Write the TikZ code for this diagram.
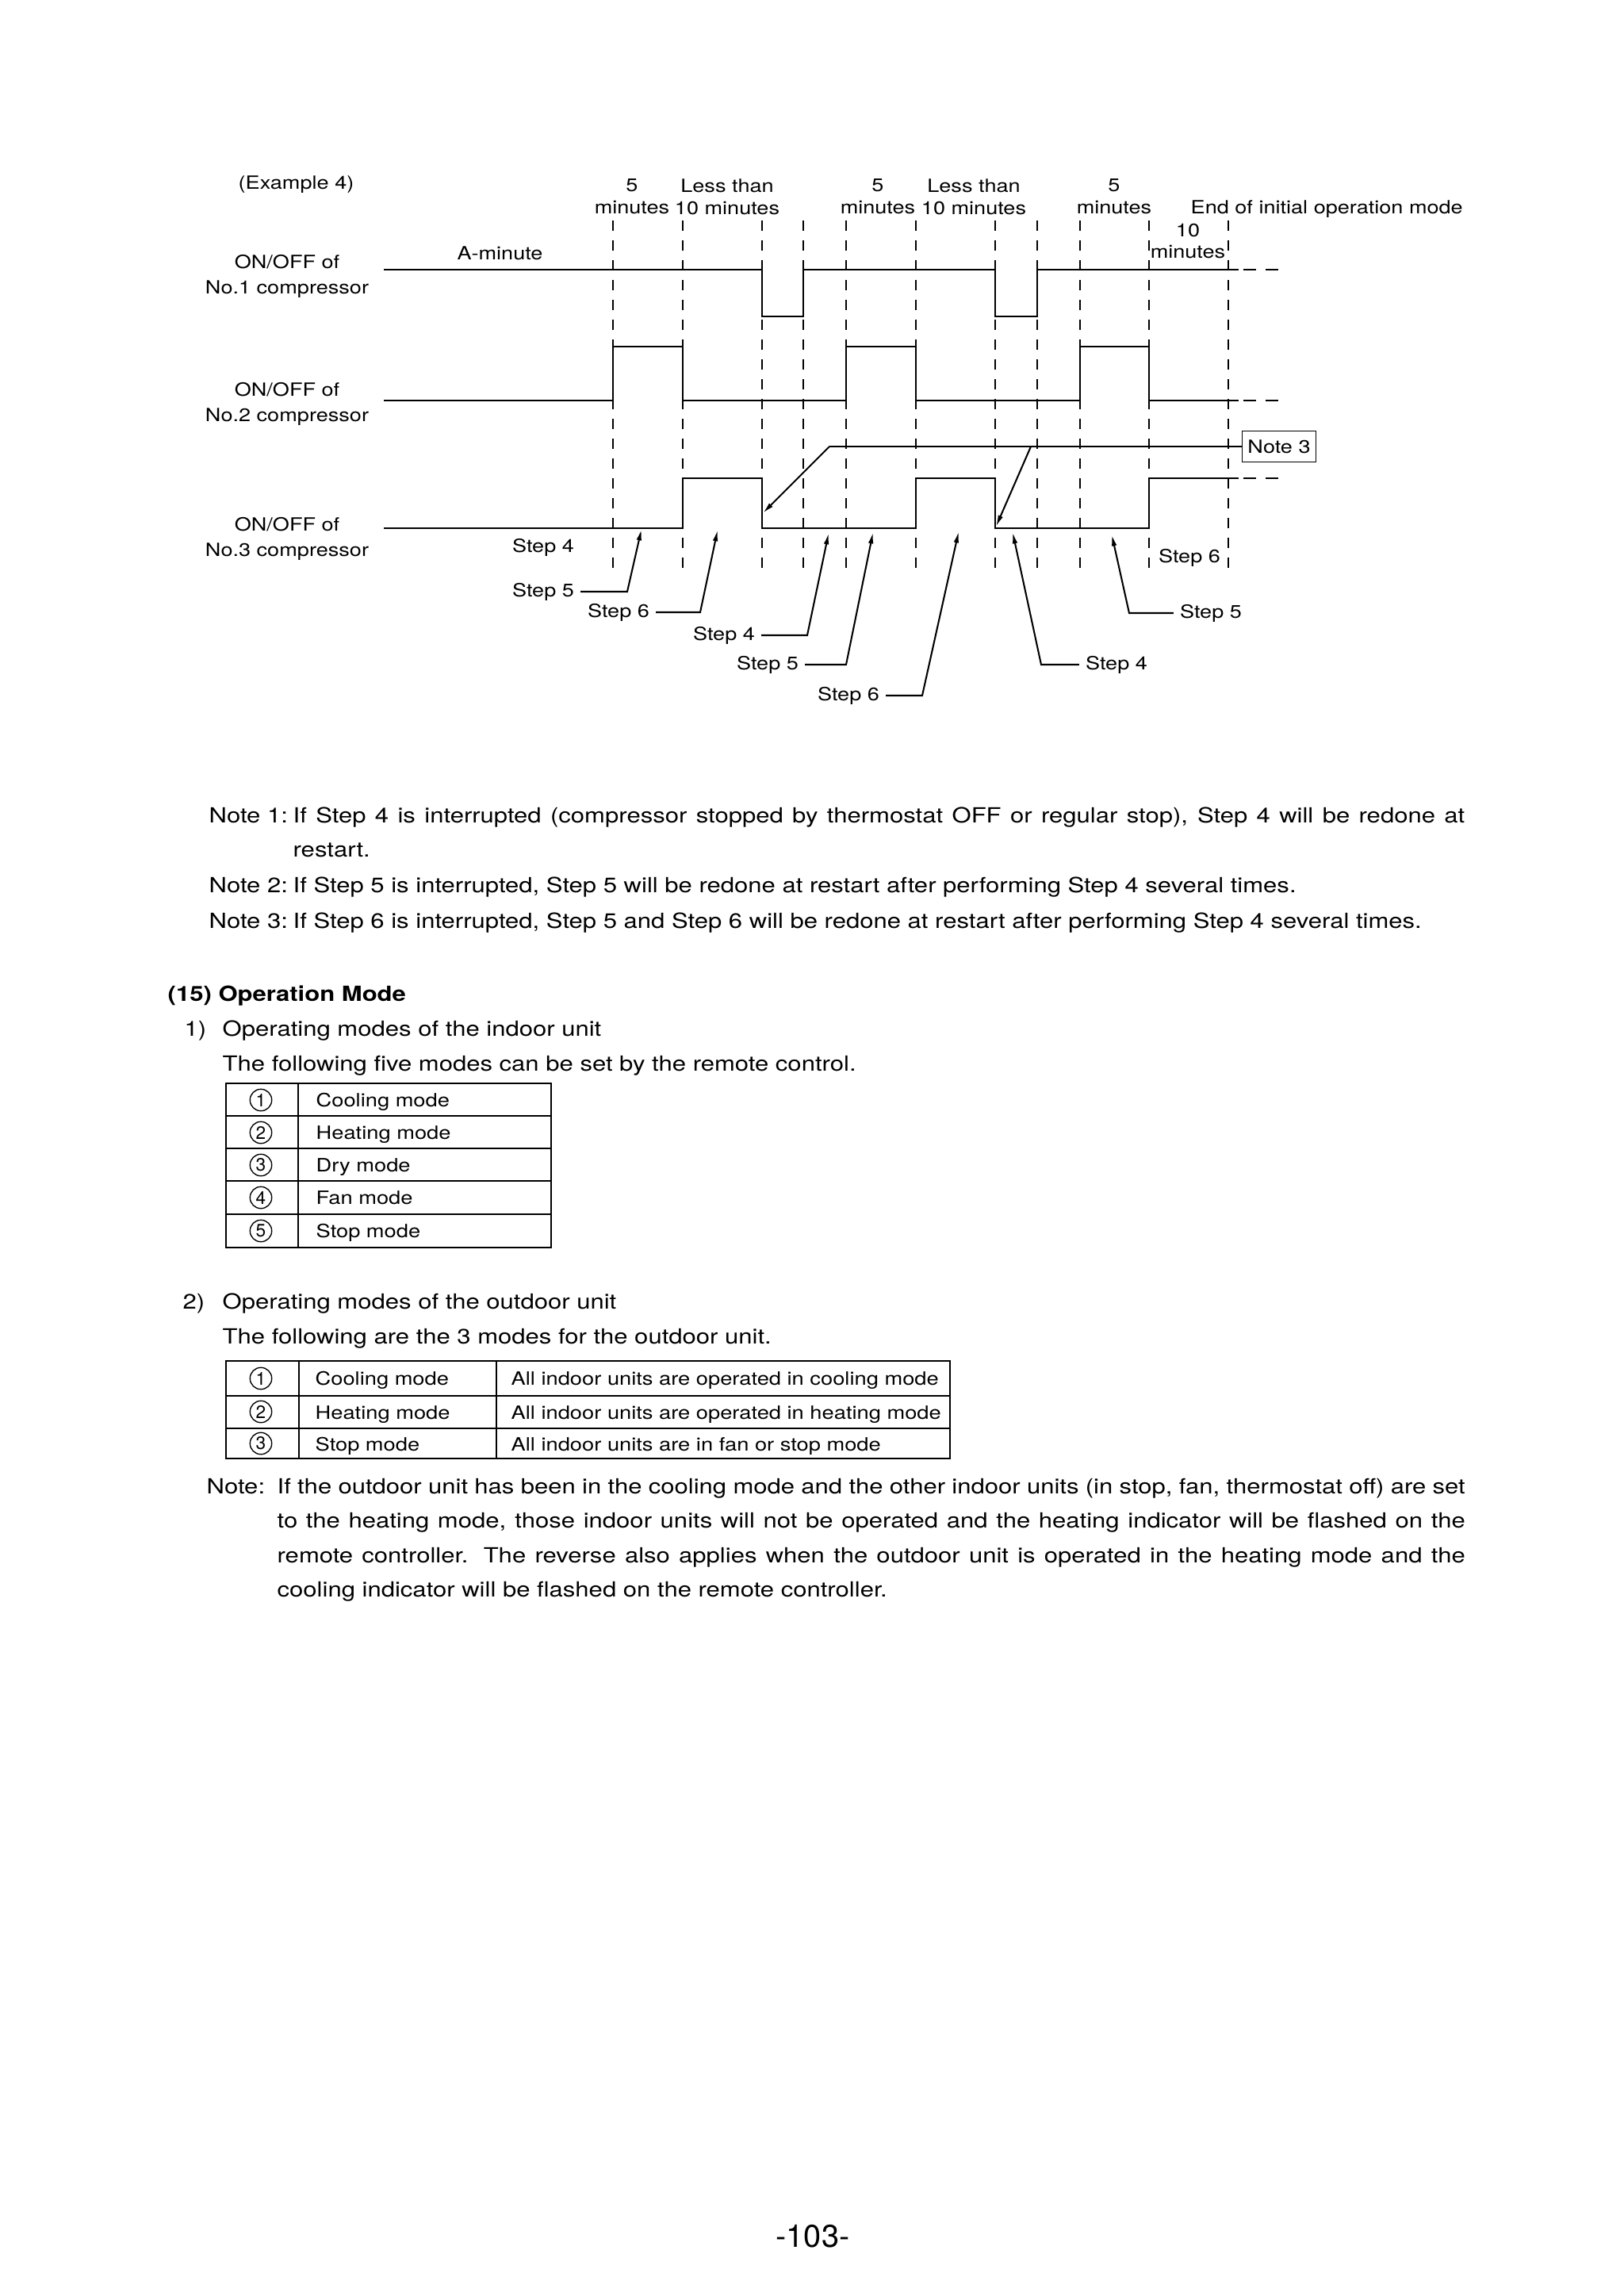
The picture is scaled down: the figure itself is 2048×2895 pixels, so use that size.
\documentclass[tikz,border=0pt]{standalone}
\usepackage{fontspec}
\setmainfont{TeX Gyre Heros}[FakeStretch=1.18]
\newfontfamily\plainfont{TeX Gyre Heros}
\usetikzlibrary{arrows.meta}

\begin{document}
\begin{tikzpicture}[
    x=0.1026mm, y=-0.1026mm, % one unit is one pixel of the page, y runs downwards
    >={Latex[length=4.2pt, width=1.9pt]}, % Set default arrow tip style
    sig/.style={line width=0.68pt}, % Style for the ON/OFF signals
    sigend/.style={line width=0.68pt, dash pattern=on 4.7pt off 3.5pt}, % Style for the open ends
    timemark/.style={line width=0.45pt, dash pattern=on 3.8pt off 3.5pt}, % Style for the time marks
    leader/.style={->, line width=0.6pt}, % Style for the step pointers
    chart/.style={inner sep=0pt, font=\fontsize{6.7}{9.3}\selectfont}, % Style for chart texts
    toplabel/.style={chart, align=center, anchor=base, font=\fontsize{6.7}{8.1}\selectfont}, % Style for time spans (base = last line)
    steplabel/.style={inner sep=2.2pt, font=\fontsize{6.7}{8}\selectfont}, % Style for Step 4, 5, 6
    body/.style={inner sep=0pt, anchor=base west, font=\fontsize{7.68}{12.7}\selectfont}, % Style for the running text
    cell/.style={inner sep=0pt, anchor=mid west, font=\fontsize{6.75}{8}\selectfont}, % Style for table texts
    num/.style={circle, draw, line width=0.4pt, inner sep=0pt, minimum size=8pt, font=\plainfont\fontsize{6.6}{7}\selectfont}, % Style for circled numbers
    thickrule/.style={line width=0.75pt}, % Style for table borders
    thinrule/.style={line width=0.45pt} % Style for table rules
]

    % Page
    \fill[white] (0,0) rectangle (2048,2895);
    \useasboundingbox (0,0) rectangle (2048,2895);

    % Time marks
    \foreach \x in {773,861,961,1013,1067,1155,1255,1308,1362,1449,1549}
        \draw[timemark] (\x,278) -- (\x,726);

    % Labels over the chart
    \node[chart, anchor=base west] (example) at (300,238) {(Example 4)};
    \node[toplabel] (span1) at (797,269) {5\\minutes};
    \node[toplabel] (span2) at (917,270) {Less than\\10 minutes};
    \node[toplabel] (span3) at (1107,269) {5\\minutes};
    \node[toplabel] (span4) at (1228,270) {Less than\\10 minutes};
    \node[toplabel] (span5) at (1405,269) {5\\minutes};
    \node[chart, anchor=base west] (endmode) at (1501,269) {End of initial operation mode};
    \node[toplabel, font=\fontsize{6.7}{7.6}\selectfont] (span6) at (1498,325) {10\\minutes};
    \node[chart, anchor=base west] (aminute) at (576,327) {A-minute};

    % Compressor names
    \node[chart, align=center, anchor=base] (comp1) at (362,370) {ON/OFF of\\No.1 compressor};
    \node[chart, align=center, anchor=base] (comp2) at (362,531) {ON/OFF of\\No.2 compressor};
    \node[chart, align=center, anchor=base] (comp3) at (362,701) {ON/OFF of\\No.3 compressor};

    % Signals
    \draw[sig] (484,340) -- (961,340) -- (961,399) -- (1013,399) -- (1013,340) -- (1255,340)
        -- (1255,399) -- (1308,399) -- (1308,340) -- (1562,340);
    \draw[sig] (484,505) -- (773,505) -- (773,437) -- (861,437) -- (861,505) -- (1067,505)
        -- (1067,437) -- (1155,437) -- (1155,505) -- (1362,505) -- (1362,437) -- (1449,437)
        -- (1449,505) -- (1562,505);
    \draw[sig] (484,666) -- (861,666) -- (861,603) -- (961,603) -- (961,666) -- (1155,666)
        -- (1155,603) -- (1255,603) -- (1255,666) -- (1449,666) -- (1449,603) -- (1562,603);
    \draw[sigend] (1568,340) -- (1622,340);
    \draw[sigend] (1568,505) -- (1622,505);
    \draw[sigend] (1568,603) -- (1622,603);

    % Note 3 and its pointers
    \node[draw, line width=0.45pt, chart, minimum width=27.1pt, minimum height=11.4pt] (note3) at (1613,563) {Note 3};
    \coordinate (j1) at (1046,563);
    \coordinate (j2) at (1300,563);
    \coordinate (p1) at (962,647);
    \coordinate (p2) at (1256,664);
    \draw[sig] (j1) -- (note3);
    \draw[leader] (j1) -- (p1);
    \draw[leader] (j2) -- (p2);

    % Steps
    \node[steplabel] (s4a) at (685,690) {Step 4};
    \node[steplabel] (s5a) at (685,746) {Step 5};
    \node[steplabel] (s6a) at (780,772) {Step 6};
    \node[steplabel] (s4b) at (913,801) {Step 4};
    \node[steplabel] (s5b) at (968,838) {Step 5};
    \node[steplabel] (s6b) at (1070,877) {Step 6};
    \node[steplabel] (s4c) at (1408,838) {Step 4};
    \node[steplabel] (s5c) at (1527,773) {Step 5};
    \node[steplabel] (s6c) at (1500,703) {Step 6};

    % Bends and tips of the step pointers
    \coordinate (k1) at (791,746);  \coordinate (a1) at (809,667);
    \coordinate (k2) at (883,772);  \coordinate (a2) at (905,668);
    \coordinate (k3) at (1018,801); \coordinate (a3) at (1045,672);
    \coordinate (k4) at (1067,838); \coordinate (a4) at (1101,671);
    \coordinate (k5) at (1163,877); \coordinate (a5) at (1209,670);
    \coordinate (k6) at (1313,838); \coordinate (a6) at (1277,671);
    \coordinate (k7) at (1424,773); \coordinate (a7) at (1402,674);

    \draw[leader] (s5a) -- (k1) -- (a1);
    \draw[leader] (s6a) -- (k2) -- (a2);
    \draw[leader] (s4b) -- (k3) -- (a3);
    \draw[leader] (s5b) -- (k4) -- (a4);
    \draw[leader] (s6b) -- (k5) -- (a5);
    \draw[leader] (s4c) -- (k6) -- (a6);
    \draw[leader] (s5c) -- (k7) -- (a7);

    % Notes under the chart
    \node[body] (note1l) at (263,1037) {Note 1:};
    \node[body, text width=151.6mm, align=justify] (note1) at (369,1037)
        {If Step 4 is interrupted (compressor stopped by thermostat OFF or regular stop), Step 4 will be redone at\linebreak restart.};
    \node[body] (note2l) at (263,1125) {Note 2:};
    \node[body] (note2) at (369,1125) {If Step 5 is interrupted, Step 5 will be redone at restart after performing Step 4 several times.};
    \node[body] (note3l) at (263,1170) {Note 3:};
    \node[body] (note3t) at (369,1170) {If Step 6 is interrupted, Step 5 and Step 6 will be redone at restart after performing Step 4 several times.};

    % Operation mode
    \node[body, font=\bfseries\fontsize{7.68}{12.7}\selectfont] (head) at (211,1262) {(15) Operation Mode};
    \node[body] (item1) at (232,1306) {1)};
    \node[body] (item1t) at (280,1306) {Operating modes of the indoor unit};
    \node[body] (item1s) at (280,1350) {The following five modes can be set by the remote control.};

    % Table of indoor modes
    \draw[thickrule] (285,1366) rectangle (695,1573);
    \foreach \y in {1407,1448,1489,1531}
        \draw[thinrule] (285,\y) -- (695,\y);
    \draw[thinrule] (376,1366) -- (376,1573);
    \foreach \y/\n/\m [count=\k] in {1387/1/Cooling mode, 1428/2/Heating mode, 1469/3/Dry mode, 1510/4/Fan mode, 1552/5/Stop mode} {
        \node[num] (inum\k) at (329,\y) {\n};
        \node[cell] (imode\k) at (398,\y) {\m};
    }

    \node[body] (item2) at (230,1650) {2)};
    \node[body] (item2t) at (280,1650) {Operating modes of the outdoor unit};
    \node[body] (item2s) at (280,1694) {The following are the 3 modes for the outdoor unit.};

    % Table of outdoor modes
    \draw[thickrule] (285,1716) rectangle (1198,1839);
    \foreach \y in {1760,1801}
        \draw[thinrule] (285,\y) -- (1198,\y);
    \foreach \x in {377,626}
        \draw[thinrule] (\x,1716) -- (\x,1839);
    \foreach \y/\n/\m/\d [count=\k] in {1738/1/Cooling mode/All indoor units are operated in cooling mode,
        1780/2/Heating mode/All indoor units are operated in heating mode,
        1820/3/Stop mode/All indoor units are in fan or stop mode} {
        \node[num] (onum\k) at (329,\y) {\n};
        \node[cell] (omode\k) at (397,\y) {\m};
        \node[cell] (odesc\k) at (644,\y) {\d};
    }

    % Closing note
    \node[body] (notel) at (260,1883) {Note:};
    \node[body, text width=153.7mm, align=justify] (notet) at (349,1883)
        {If the outdoor unit has been in the cooling mode and the other indoor units (in stop, fan, thermostat off) are set\linebreak
         to the heating mode, those indoor units will not be operated and the heating indicator will be flashed on the\linebreak
         remote controller. The reverse also applies when the outdoor unit is operated in the heating mode and the\linebreak
         cooling indicator will be flashed on the remote controller.};

    % Page number
    \node[inner sep=0pt, anchor=base, font=\plainfont\fontsize{11.6}{14}\selectfont] (page) at (1025,2833) {-103-};

\end{tikzpicture}
\end{document}
